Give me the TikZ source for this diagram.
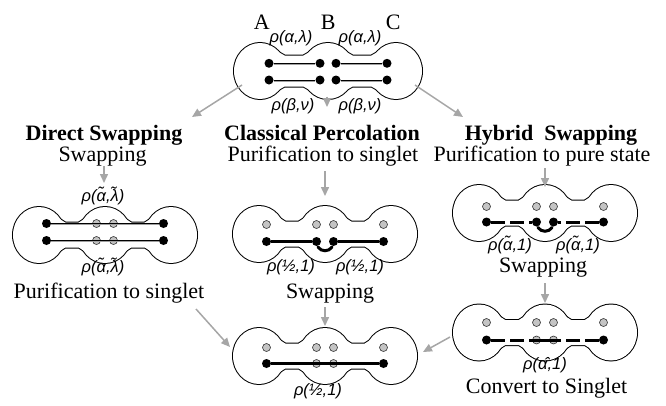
\documentclass[tikz,border=0pt]{standalone}
\usepackage{fontspec}
\setmainfont{Liberation Serif}
\newfontfamily\rhofont{Liberation Sans}
\usetikzlibrary{arrows.meta}
\definecolor{arrgray}{HTML}{A6A6A6}
\definecolor{dotgray}{HTML}{C4C4C4}
\definecolor{shadegray}{HTML}{A0A0A0}
\newcommand\blobpieces[1]{%
 \path[#1] (-\bsp,0) ellipse [x radius=26,y radius=28];
 \path[#1] (0,0) ellipse [x radius=26,y radius=28];
 \path[#1] (\bsp,0) ellipse [x radius=26,y radius=28];
 \path[#1] (-\bsp+\bea-1,-\bhb) -- (-\bsp+\beb+3,-\bhn) -- (-\beb-3,-\bhn) -- (-\bea+1,-\bhb) -- (-\bea+1,\bhb) -- (-\beb-3,\bhn) -- (-\bsp+\beb+3,\bhn) -- (-\bsp+\bea-1,\bhb) -- cycle;
 \path[#1] (\bsp-\bea+1,-\bhb) -- (\bsp-\beb-3,-\bhn) -- (\beb+3,-\bhn) -- (\bea-1,-\bhb) -- (\bea-1,\bhb) -- (\beb+3,\bhn) -- (\bsp-\beb-3,\bhn) -- (\bsp-\bea+1,\bhb) -- cycle;
}
\newcommand\blob[4]{%
 \begin{scope}[shift={(#1,#2)}]
 \def\bsp{#3}\def\bhn{#4}%
 \pgfmathsetmacro\bhb{#4+4}%
 \pgfmathsetmacro\bea{26*sqrt(1-(\bhb/28)^2)}%
 \pgfmathsetmacro\beb{26*sqrt(1-(#4/28)^2)}%
 \blobpieces{draw, line width=2pt}
 \blobpieces{fill=white}
 \end{scope}}
\tikzset{
 garrow/.style={draw=arrgray, line width=1.5pt, -{Triangle[length=9pt,width=8pt]}},
 hd/.style={font=\fontsize{22}{24}\selectfont\bfseries, anchor=base, inner sep=0},
 tx/.style={font=\fontsize{22}{24}\selectfont, anchor=base, inner sep=0},
 rl/.style={font=\rhofont\itshape\fontsize{16.5}{18}\selectfont, inner sep=0},
 bdot/.style={circle, fill=black, minimum size=9pt, inner sep=0},
 gdot/.style={circle, fill=dotgray, draw=black!80, line width=0.6pt, minimum size=8pt, inner sep=0},
 thk/.style={line width=3pt},
 dsh/.style={line width=3pt, dash pattern=on 14pt off 5pt},
 thn/.style={line width=0.8pt},
 shd/.style={draw=shadegray, line width=0.9pt, transform canvas={yshift=-1.2pt}},
 smile/.style={line width=3pt, line cap=round}
}
\begin{document}
\begin{tikzpicture}[x=1pt,y=-1pt]
\useasboundingbox (0,0) rectangle (666,405);
% ---------- shapes ----------
\blob{328}{71}{68}{15.5}
\blob{105}{235}{66}{12.5}
\blob{325}{234}{66}{12.5}
\blob{545}{213}{66}{12.5}
\blob{545}{332.5}{66}{12.5}
\blob{325}{356}{66}{12.5}
% ---------- top ----------
\node[tx] (lA) at (261.7,29.3) {A};
\node[tx] (lB) at (328.3,29.3) {B};
\node[tx] (lC) at (393.3,29.3) {C};
\foreach \n/\x in {1/269,2/320,3/336,4/387}{\node[bdot] (t\n) at (\x,63.3) {};}
\foreach \n/\x in {5/269,6/320,7/336,8/387}{\node[bdot] (t\n) at (\x,80) {};}
\foreach \a/\b in {t1/t2,t3/t4,t5/t6,t7/t8}{\draw[shd] (\a) -- (\b); \draw[thn] (\a) -- (\b);}
\node[rl] (rt1) at (291,38) {ρ(α,λ)};
\node[rl] (rt2) at (360,38) {ρ(α,λ)};
\node[rl] (rt3) at (293,106) {ρ(β,ν)};
\node[rl] (rt4) at (360,106) {ρ(β,ν)};
% ---------- headings ----------
\node[hd] (h1) at (104,140) {Direct Swapping};
\node[hd] (h2) at (322,140) {Classical Percolation};
\node[hd] (h3) at (551,140) {Hybrid\ \ Swapping};
\node[tx] (s1) at (102.5,161) {Swapping};
\node[tx] (s2) at (323,161) {Purification to singlet};
\node[tx] (s3) at (542,161) {Purification to pure state};
% ---------- left ----------
\node[bdot] (l1) at (46.5,223.5) {};
\node[gdot] (l2) at (96.5,223.5) {};
\node[gdot] (l3) at (113.5,223.5) {};
\node[bdot] (l4) at (163.5,223.5) {};
\node[bdot] (l5) at (46.5,240.5) {};
\node[gdot] (l6) at (96.5,240.5) {};
\node[gdot] (l7) at (113.5,240.5) {};
\node[bdot] (l8) at (163.5,240.5) {};
\draw[shd] (l1) -- (l4); \draw[thn] (l1) -- (l4);
\draw[shd] (l5) -- (l8); \draw[thn] (l5) -- (l8);
\node[rl] (rl1) at (103,196) {ρ(\~{α},\~{λ})};
\node[rl] (rl2) at (103,267) {ρ(\~{α},\~{λ})};
\node[tx] (s4) at (109,298.5) {Purification to singlet};
% ---------- middle ----------
\foreach \n/\x in {1/266.5,2/316.5,3/333.5,4/383.5}{\node[gdot] (m\n) at (\x,224.5) {};}
\foreach \n/\x in {5/266.5,6/316.5,7/333.5,8/383.5}{\node[bdot] (m\n) at (\x,241.5) {};}
\draw[thk] (m5) -- (m6); \draw[thk] (m7) -- (m8);
\draw[smile] (318,247) .. controls (321,252) and (329,252) .. (332,247);
\node[rl] (rm1) at (291,267) {ρ(½,1)};
\node[rl] (rm2) at (360,267) {ρ(½,1)};
\node[tx] (s5) at (330,298.5) {Swapping};
% ---------- right top ----------
\foreach \n/\x in {1/486.5,2/536.5,3/553.5,4/603.5}{\node[gdot] (r\n) at (\x,206.5) {};}
\foreach \n/\x in {5/486.5,6/536.5,7/553.5,8/603.5}{\node[bdot] (r\n) at (\x,222) {};}
\draw[dsh] (r5) -- (r6); \draw[dsh] (r8) -- (r7);
\draw[smile] (538,227.5) .. controls (541,232.5) and (549,232.5) .. (552,227.5);
\node[rl] (rr1) at (510,245) {ρ(\~{α},1)};
\node[rl] (rr2) at (578,245) {ρ(\~{α},1)};
\node[tx] (s6) at (543,272) {Swapping};
% ---------- right bottom ----------
\foreach \n/\x in {1/486.5,2/536.5,3/553.5,4/603.5}{\node[gdot] (q\n) at (\x,322.5) {};}
\node[bdot] (q5) at (486.5,340) {};
\node[gdot] (q6) at (536.5,340) {};
\node[gdot] (q7) at (553.5,340) {};
\node[bdot] (q8) at (603.5,340) {};
\draw[dsh] (q5) -- (q6.west); \draw[thk] (q6.west) -- (q7.east); \draw[dsh] (q8) -- (q7.east);
\node[rl] (rq1) at (545,365) {ρ(\^{α},1)};
\node[tx] (s7) at (546.5,393) {Convert to Singlet};
% ---------- bottom ----------
\foreach \n/\x in {1/266.5,2/316.5,3/333.5,4/383.5}{\node[gdot] (b\n) at (\x,347.5) {};}
\node[bdot] (b5) at (266.5,363.5) {};
\node[gdot] (b6) at (316.5,363.5) {};
\node[gdot] (b7) at (333.5,363.5) {};
\node[bdot] (b8) at (383.5,363.5) {};
\draw[thk] (b5) -- (b8);
\node[rl] (rb1) at (318,391) {ρ(½,1)};
% ---------- arrows ----------
\coordinate (a1s) at (242,85);   \coordinate (a1e) at (192,117);
\coordinate (a2s) at (415,85);   \coordinate (a2e) at (463,117);
\coordinate (a3s) at (327,96.5); \coordinate (a3e) at (327,107);
\coordinate (a4s) at (104,166);  \coordinate (a4e) at (104,183);
\coordinate (a5s) at (325,171);  \coordinate (a5e) at (325,196);
\coordinate (a6s) at (545,168);  \coordinate (a6e) at (545,187);
\coordinate (a7s) at (196,309);  \coordinate (a7e) at (230,347);
\coordinate (a8s) at (325,307);  \coordinate (a8e) at (325,326);
\coordinate (a9s) at (545,283);  \coordinate (a9e) at (545,303);
\coordinate (a10s) at (450,337); \coordinate (a10e) at (423,352);
\foreach \i in {1,...,10}{\draw[garrow] (a\i s) -- (a\i e);}
\end{tikzpicture}
\end{document}
